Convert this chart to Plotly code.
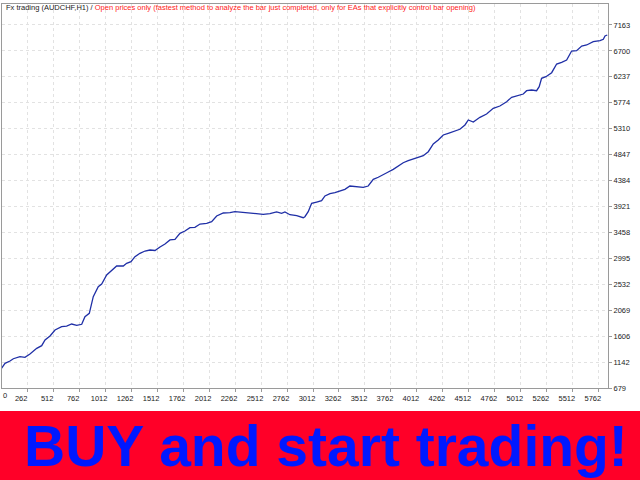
import plotly.graph_objects as go

# ---- data ----
trades = [0, 49, 97, 129, 193, 241, 289, 354, 402, 434, 482, 530, 594, 642, 690, 739, 787, 818, 860, 898,
          946, 979, 1027, 1075, 1123, 1187, 1219, 1261, 1299, 1347, 1396, 1444, 1492, 1540, 1588, 1636, 1684,
          1732, 1780, 1828, 1876, 1925, 1989, 2037, 2085, 2149, 2213, 2261, 2341, 2406, 2470, 2533, 2598, 2662,
          2710, 2742, 2790, 2855, 2918, 2934, 2966, 2999, 3047, 3095, 3127, 3175, 3223, 3271, 3319, 3367, 3432,
          3495, 3543, 3592, 3640, 3688, 3736, 3784, 3832, 3880, 3928, 3976, 4024, 4073, 4121, 4169, 4217, 4265,
          4313, 4361, 4425, 4474, 4506, 4554, 4618, 4682, 4746, 4810, 4875, 4923, 4971, 5035, 5067, 5115, 5163,
          5188, 5211, 5253, 5308, 5356, 5404, 5452, 5500, 5548, 5597, 5645, 5708, 5773, 5805, 5821, 5843]
balance = [988, 1120, 1161, 1202, 1238, 1227, 1286, 1388, 1435, 1536, 1608, 1715, 1774, 1786, 1822, 1799, 1817,
           1953, 2013, 2310, 2488, 2537, 2697, 2774, 2858, 2858, 2906, 2935, 3024, 3085, 3126, 3144, 3135, 3198,
           3251, 3323, 3335, 3442, 3483, 3542, 3549, 3608, 3621, 3649, 3751, 3805, 3810, 3828, 3817, 3810, 3799,
           3782, 3792, 3823, 3799, 3823, 3774, 3757, 3721, 3739, 3828, 3978, 4001, 4025, 4109, 4150, 4167, 4203,
           4228, 4287, 4275, 4264, 4287, 4407, 4443, 4496, 4537, 4585, 4644, 4703, 4739, 4764, 4800, 4828, 4900,
           5037, 5109, 5198, 5228, 5257, 5300, 5377, 5466, 5430, 5514, 5573, 5675, 5716, 5793, 5872, 5895, 5930,
           5989, 6002, 5989, 6061, 6211, 6239, 6311, 6466, 6497, 6538, 6698, 6704, 6788, 6806, 6865, 6883, 6908,
           6966, 6984]

x_tick_vals = [262, 512, 762, 1012, 1262, 1512, 1762, 2012, 2262, 2512, 2762, 3012, 3262, 3512,
               3762, 4012, 4262, 4512, 4762, 5012, 5262, 5512, 5762]
y_tick_text = ["679", "1142", "1606", "2069", "2532", "2995", "3458", "3921", "4384", "4847",
               "5310", "5774", "6237", "6700", "7163"]
y_min, y_max = 679, 7163

title_black = "Fx trading (AUDCHF,H1) / "
title_red = "Open prices only (fastest method to analyze the bar just completed, only for EAs that explicitly control bar opening)"
banner_text = "BUY and start trading!"

# ---- layout geometry ----
W, H = 640, 480
L, R, T, B = 2, 32, 4, 92
pw, ph = W - L - R, H - T - B


def px_x(px):
    return (px - L) / pw


def px_y(py):
    return (H - B - py) / ph


step = (y_max - y_min) / (len(y_tick_text) - 1)
y_tick_vals = [y_min + i * step for i in range(len(y_tick_text))]

small_font = dict(family="Liberation Sans, Arial, sans-serif", size=7.5, color="#222222")

fig = go.Figure()
fig.add_trace(go.Scatter(x=trades, y=balance, mode="lines",
                         line=dict(color="#1f2fa6", width=1.3), showlegend=False,
                         hoverinfo="skip"))

fig.update_layout(
    width=W, height=H,
    margin=dict(l=L, r=R, t=T, b=B, pad=0, autoexpand=False),
    paper_bgcolor="white", plot_bgcolor="white",
    xaxis=dict(range=[20, 5850], tickvals=x_tick_vals, ticktext=[str(v) for v in x_tick_vals],
               showgrid=True, gridcolor="#e2e2e2", griddash="dot", gridwidth=1,
               showline=True, mirror=True, linecolor="#9a9a9a", linewidth=1,
               ticks="outside", ticklen=3, tickcolor="#9a9a9a",
               tickfont=small_font, ticklabelshift=-6, zeroline=False, fixedrange=True,
               automargin=False),
    yaxis=dict(range=[679, 7538], tickvals=y_tick_vals, ticktext=y_tick_text, side="right",
               showgrid=True, gridcolor="#e2e2e2", griddash="dot", gridwidth=1,
               showline=True, mirror=True, linecolor="#9a9a9a", linewidth=1,
               ticks="outside", ticklen=3, tickcolor="#9a9a9a",
               tickfont=small_font, zeroline=False, fixedrange=True, automargin=False),
    shapes=[dict(type="rect", xref="paper", yref="paper",
                 x0=px_x(-5), x1=px_x(W + 5), y0=px_y(411), y1=px_y(H + 5),
                 fillcolor="#ff0028", line=dict(width=0), layer="above")],
    annotations=[
        dict(xref="paper", yref="paper", x=px_x(4), y=px_y(8), xanchor="left", yanchor="middle",
             text=title_black + "<span style='color:#ff1a1a'>" + title_red + "</span>",
             showarrow=False, font=small_font),
        dict(xref="paper", yref="paper", x=px_x(1), y=px_y(395), xanchor="left", yanchor="middle",
             text="0", showarrow=False, font=small_font),
        dict(xref="paper", yref="paper", x=px_x(326), y=px_y(446), xanchor="center", yanchor="middle",
             text="<b>" + banner_text + "</b>", showarrow=False,
             font=dict(family="Liberation Sans, Arial, sans-serif", size=57, color="#0019ff")),
    ],
)

fig.write_html("out.html", config={"displayModeBar": False, "staticPlot": True},
               post_script="document.body.style.margin='0';document.body.style.overflow='hidden';")
